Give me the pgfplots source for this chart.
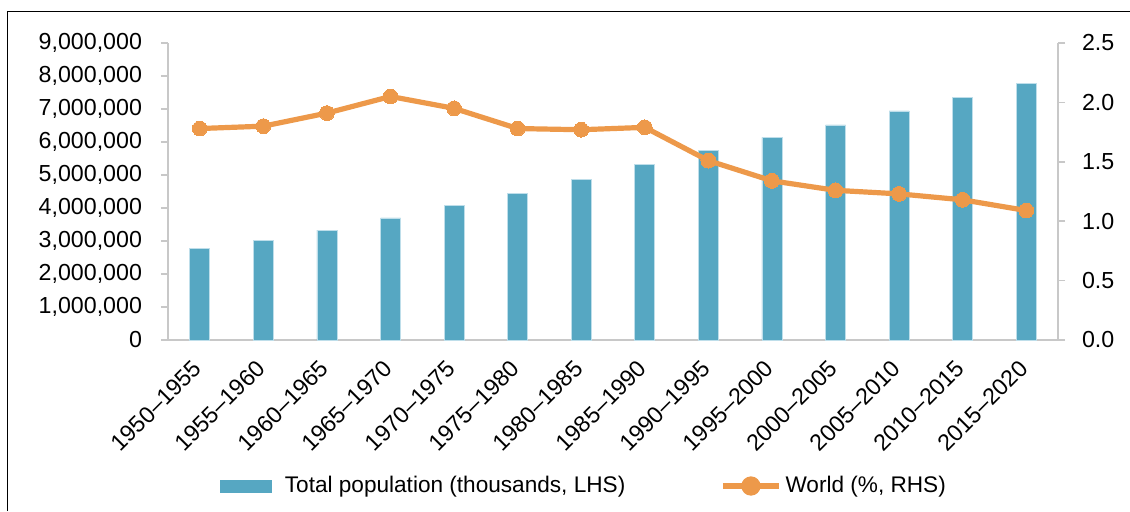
\documentclass[border=0pt]{standalone}
\usepackage{fontspec}
\setmainfont{Liberation Sans}
\usepackage{pgfplots}
\pgfplotsset{compat=1.18}
\definecolor{barblue}{RGB}{86,167,194}
\definecolor{lineorange}{RGB}{237,153,74}
\definecolor{axgray}{RGB}{200,200,200}
\begin{document}
\begin{tikzpicture}
\useasboundingbox (0,0) rectangle (565pt,255.5pt);
\draw[line width=0.75pt] (3.75pt,0pt) -- (3.75pt,249.75pt) -- (565pt,249.75pt);
\pgfplotsset{
  common/.style={
    at={(84pt,85.5pt)}, anchor=south west,
    scale only axis, width=445pt, height=148.5pt,
    xmin=-0.5, xmax=13.5,
    axis line style={axgray, line width=0.9pt},
    tick style={axgray, line width=0.8pt},
    tick align=outside, major tick length=3.5pt,
    every tick label/.append style={font=\fontsize{11.6}{13}\selectfont, text=black},
    /pgf/number format/assume math mode=true,
  }
}
\begin{axis}[common,
  axis x line*=bottom, axis y line*=left,
  ymin=0, ymax=9000000,
  ytick={0,1000000,2000000,3000000,4000000,5000000,6000000,7000000,8000000,9000000},
  scaled y ticks=false,
  yticklabel style={/pgf/number format/.cd, fixed, 1000 sep={,}, /tikz/.cd, xshift=-6pt},
  xtick={0,...,13},
  xticklabels={1950–1955,1955–1960,1960–1965,1965–1970,1970–1975,1975–1980,1980–1985,1985–1990,1990–1995,1995–2000,2000–2005,2005–2010,2010–2015,2015–2020},
  x tick label style={rotate=45, anchor=north east, inner sep=1pt, xshift=-6pt, yshift=0pt},
  major x tick style={draw=none},
  ybar, bar width=10pt,
]
\addplot[fill=barblue, draw={rgb,255:red,190;green,222;blue,234}, line width=0.3pt] coordinates {
(0,2780000) (1,3030000) (2,3330000) (3,3700000) (4,4070000) (5,4450000) (6,4870000)
(7,5320000) (8,5750000) (9,6140000) (10,6520000) (11,6940000) (12,7360000) (13,7780000)};
\end{axis}
\begin{axis}[common,
  axis x line=none, axis y line*=right,
  ymin=0, ymax=2.5,
  ytick={0,0.5,1,1.5,2,2.5},
  yticklabel style={/pgf/number format/.cd, fixed, fixed zerofill, precision=1, /tikz/.cd, xshift=5pt},
  xtick=\empty,
  legend columns=2,
  legend style={at={(0.4685,-0.4916)}, anchor=center, draw=none, fill=none,
    font=\fontsize{11.3}{13}\selectfont,
    /tikz/every even column/.append style={column sep=45.5pt}},
]
\addlegendimage{legend image code/.code={\fill[barblue] (0pt,-3pt) rectangle (25.5pt,3pt); \path (30pt,0pt);}}
\addlegendentry{Total population (thousands, LHS)}
\addplot[lineorange, line width=2.6pt, mark=*, mark size=3.7pt, mark options={fill=lineorange, draw=lineorange, line width=0pt},
  legend image code/.code={\draw[lineorange, line width=2.6pt] (0pt,0pt) -- (28pt,0pt); \fill[lineorange] (14pt,0pt) circle (3.5pt);}] coordinates {
(0,1.78) (1,1.80) (2,1.91) (3,2.05) (4,1.95) (5,1.78) (6,1.77)
(7,1.79) (8,1.51) (9,1.34) (10,1.26) (11,1.23) (12,1.18) (13,1.09)};
\addlegendentry{World (\%, RHS)}
\end{axis}
\end{tikzpicture}
\end{document}
